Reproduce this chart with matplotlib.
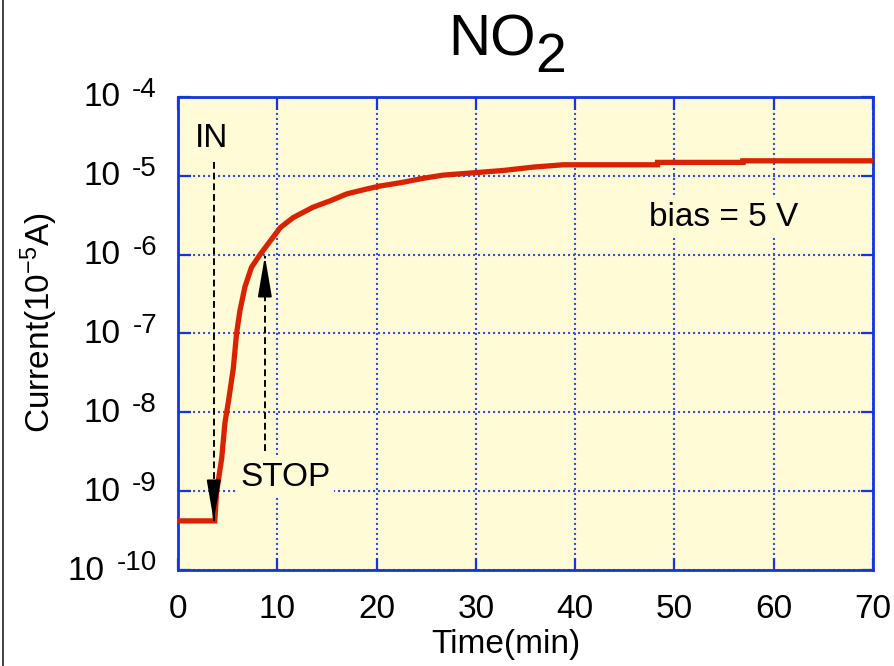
import matplotlib
matplotlib.use("Agg")
import matplotlib.pyplot as plt
from matplotlib.ticker import NullLocator, FixedLocator
from matplotlib.lines import Line2D

plt.rcParams['font.family'] = ['Liberation Sans', 'DejaVu Sans']
plt.rcParams['mathtext.fontset'] = 'custom'
plt.rcParams['mathtext.rm'] = 'Liberation Sans'
plt.rcParams['mathtext.it'] = 'Liberation Sans'

# ---------------- data ----------------
time_min = [0, 3.7, 3.9, 4.4, 4.73, 5.07, 5.57, 5.9, 6.24, 6.74, 7.4, 8.26, 9.27,
            10.3, 11.6, 13.6, 15.3, 17.0, 19.0, 20.3, 22.7, 24.7, 26.7, 30.1, 32.8,
            35.8, 38.8, 42.8, 48.3, 48.3, 56.9, 56.9, 70]
current = [4.2e-10, 4.2e-10, 1.0e-9, 2.6e-9, 7.4e-9, 1.35e-8, 3.6e-8, 1.0e-7, 1.95e-7,
           3.9e-7, 6.9e-7, 1.0e-6, 1.48e-6, 2.2e-6, 2.95e-6, 4.0e-6, 4.8e-6, 5.9e-6,
           6.8e-6, 7.4e-6, 8.3e-6, 9.3e-6, 1.02e-5, 1.10e-5, 1.17e-5, 1.29e-5, 1.38e-5,
           1.38e-5, 1.38e-5, 1.48e-5, 1.48e-5, 1.55e-5, 1.55e-5]

x_ticks = [0, 10, 20, 30, 40, 50, 60, 70]
y_exponents = [-4, -5, -6, -7, -8, -9, -10]

in_arrow_time = 3.6
in_arrow_top = 1.5e-5
in_arrow_tip = 4.2e-10
stop_arrow_time = 8.75
stop_arrow_tail = 3.2e-9
stop_arrow_tip = 9.6e-7

in_label = ("IN", 3.4, 3.0e-5)
stop_label = ("STOP", 10.8, 1.5e-9)
bias_label = ("bias = 5 V", 55.0, 3.0e-6)

# ---------------- style ----------------
BG = '#FEFBD6'
BLUE = '#1535DE'
GRID = '#3050E8'
RED = '#D92200'
FS_TICK = 24
FS_EXP = 20
FS_TXT = 24

fig = plt.figure(figsize=(8.94, 6.66), dpi=100)
ax = fig.add_axes([0.1991, 0.1441, 0.9765 - 0.1991, 0.8544 - 0.1441])
ax.set_facecolor(BG)

ax.plot(time_min, current, color=RED, lw=3.8, solid_joinstyle='miter', zorder=3)

ax.set_yscale('log')
ax.set_xlim(0, 70)
ax.set_ylim(1e-10, 1e-4)
ax.xaxis.set_major_locator(FixedLocator(x_ticks))
y_vals = [10.0 ** e for e in y_exponents]
ax.yaxis.set_major_locator(FixedLocator(y_vals))
ax.yaxis.set_minor_locator(NullLocator())
ax.xaxis.set_minor_locator(NullLocator())
ax.set_yticklabels([''] * len(y_vals))
ax.set_xticklabels([str(v) for v in x_ticks], fontsize=FS_TICK)

ax.tick_params(which='major', direction='in', length=9, width=1.6, color=BLUE,
               top=True, right=True)
ax.tick_params(axis='x', pad=17)
for s in ax.spines.values():
    s.set_color(BLUE)
    s.set_linewidth(2.0)
ax.grid(True, color=GRID, lw=1.5, linestyle=(0, (1, 1.4)), zorder=1)
ax.set_axisbelow(True)

# y tick labels "10 -n"
ytr = ax.get_yaxis_transform()
for e, v in zip(y_exponents, y_vals):
    ex = ax.annotate(f'-{abs(e)}' if e < 0 else str(e), xy=(0, v), xycoords=ytr,
                     xytext=(-21, 7), textcoords='offset pixels',
                     ha='right', va='center', fontsize=FS_EXP, annotation_clip=False)
    ax.annotate('10', xy=(0, 0.5), xycoords=ex, xytext=(-12, -8),
                textcoords='offset pixels', ha='right', va='center', fontsize=FS_TICK,
                annotation_clip=False)

ax.set_xlabel('Time(min)', fontsize=FS_TXT, va='center')
ax.xaxis.set_label_coords(0.472, -0.158)
ax.set_ylabel('Current(10$^{-5}$A)', fontsize=FS_TXT, va='center', ha='center')
ax.yaxis.set_label_coords(-0.199, 0.524)

# title NO2
fig.text(448 / 894, 1 - 55 / 666, 'NO', fontsize=42, ha='left', va='baseline')
fig.text(535 / 894, 1 - 72 / 666, '2', fontsize=40, ha='left', va='baseline')

# arrows
dash = (3.5, 2.0)
ax.plot([in_arrow_time, in_arrow_time], [in_arrow_top, in_arrow_tip], color='black',
        lw=1.4, dashes=dash, zorder=4)
ax.annotate('', xy=(in_arrow_time, in_arrow_tip), xytext=(0, 40),
            textcoords='offset pixels',
            arrowprops=dict(arrowstyle='-|>,head_length=2.5,head_width=0.43',
                            color='black', lw=1.4, mutation_scale=10, shrinkA=0, shrinkB=0),
            zorder=5)
ax.plot([stop_arrow_time, stop_arrow_time], [stop_arrow_tail, stop_arrow_tip],
        color='black', lw=1.4, dashes=dash, zorder=4)
ax.annotate('', xy=(stop_arrow_time, stop_arrow_tip), xytext=(0, -40),
            textcoords='offset pixels',
            arrowprops=dict(arrowstyle='-|>,head_length=2.5,head_width=0.43',
                            color='black', lw=1.4, mutation_scale=10, shrinkA=0, shrinkB=0),
            zorder=5)

for txt, x, y in (in_label, stop_label, bias_label):
    ax.text(x, y, txt, fontsize=FS_TXT, ha='center', va='center', zorder=6,
            bbox=dict(facecolor=BG, edgecolor='none', pad=3))

fig.add_artist(Line2D([0.003, 0.003], [0, 1], transform=fig.transFigure,
                      color='#222222', lw=1.2))

fig.savefig('out.png', dpi=100)
